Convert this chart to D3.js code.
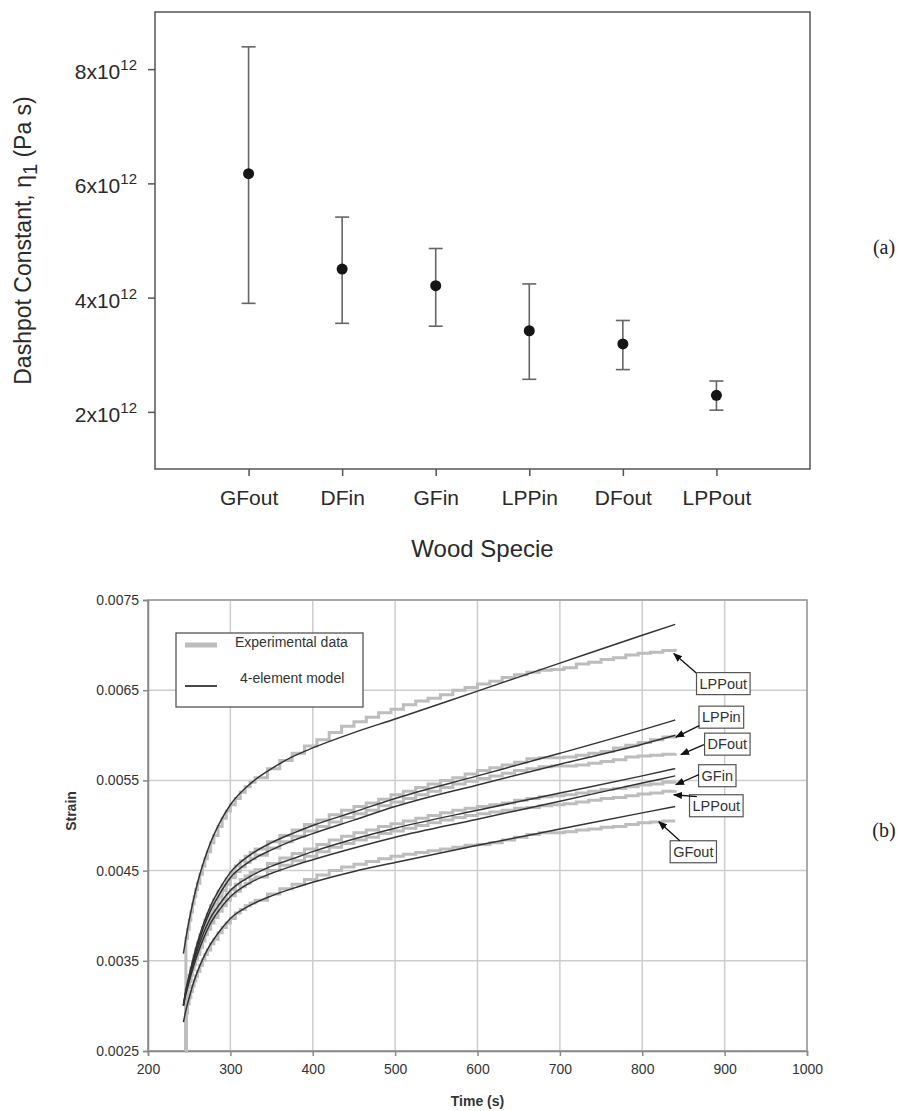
<!DOCTYPE html>
<html><head><meta charset="utf-8">
<script src="https://cdn.jsdelivr.net/npm/d3@7"></script>
<style>body{margin:0;background:#fff} svg{display:block}</style>
</head><body>
<svg id="c" width="916" height="1111"></svg>
<script>
// ---------- Data: panel (a) ----------
const species = ["GFout", "DFin", "GFin", "LPPin", "DFout", "LPPout"];
const dashpotMean  = [6.17, 4.50, 4.21, 3.42, 3.19, 2.29];   // x10^12 Pa s
const dashpotUpper = [8.39, 5.41, 4.86, 4.24, 3.60, 2.54];
const dashpotLower = [3.90, 3.55, 3.50, 2.57, 2.74, 2.03];
const dashpotTicks = [2, 4, 6, 8];

// ---------- Data: panel (b) ----------
const timeTicks = [200, 300, 400, 500, 600, 700, 800, 900, 1000];
const strainTicks = [0.0025, 0.0035, 0.0045, 0.0055, 0.0065, 0.0075];

const modelTime = [243,246,250,255,260,267,275,287,300,325,350,375,400,450,500,600,700,800,840];
const modelLPPout  = [0.00358,0.00375,0.00395,0.00417,0.00436,0.00458,0.00479,0.00503,0.00523,0.00547,0.00563,0.00576,0.00586,0.00603,0.00618,0.00649,0.00680,0.00711,0.00723];
const modelLPPin   = [0.00301,0.00318,0.00334,0.00353,0.00370,0.00390,0.00409,0.00430,0.00448,0.00468,0.00481,0.00491,0.00500,0.00515,0.00530,0.00555,0.00580,0.00606,0.00617];
const modelDFout   = [0.00300,0.00316,0.00332,0.00350,0.00366,0.00386,0.00404,0.00424,0.00442,0.00461,0.00473,0.00483,0.00491,0.00506,0.00521,0.00545,0.00568,0.00590,0.00600];
const modelGFin    = [0.00301,0.00315,0.00330,0.00347,0.00362,0.00380,0.00396,0.00413,0.00428,0.00444,0.00455,0.00463,0.00471,0.00485,0.00497,0.00517,0.00536,0.00555,0.00563];
const modelLPPout2 = [0.00300,0.00313,0.00327,0.00343,0.00357,0.00374,0.00390,0.00407,0.00421,0.00437,0.00447,0.00455,0.00462,0.00475,0.00487,0.00507,0.00527,0.00547,0.00555];
const modelGFout   = [0.00282,0.00295,0.00309,0.00325,0.00338,0.00353,0.00367,0.00383,0.00397,0.00412,0.00422,0.00430,0.00437,0.00449,0.00459,0.00478,0.00496,0.00514,0.00521];

const expTime = [245,246,248,250,252,254,256,258,260,263,266,269,272,276,280,285,290,295,300,306,312,318,324,330,
  345,360,375,390,405,420,435,450,465,480,495,510,525,540,555,570,585,600,615,630,645,660,675,690,705,720,735,750,765,780,795,810,825,840];
const expLPPout  = [0.00250,0.00375,0.00385,0.00395,0.00404,0.00413,0.00421,0.00429,0.00436,0.00446,0.00455,0.00463,0.00471,0.00481,0.00489,0.00499,0.00508,0.00516,0.00523,0.00530,0.00537,0.00543,0.00548,0.00553,
  0.00563,0.00572,0.00580,0.00588,0.00595,0.00603,0.00610,0.00615,0.00620,0.00625,0.00629,0.00634,0.00638,0.00641,0.00645,0.00650,0.00653,0.00657,0.00660,0.00664,0.00667,0.00670,0.00672,0.00673,0.00675,0.00679,0.00681,0.00684,0.00686,0.00689,0.00691,0.00692,0.00694,0.00696];
const expLPPin   = [0.00250,0.00318,0.00326,0.00334,0.00342,0.00349,0.00356,0.00363,0.00370,0.00379,0.00387,0.00395,0.00402,0.00411,0.00418,0.00427,0.00434,0.00441,0.00448,0.00455,0.00461,0.00466,0.00470,0.00474,
  0.00482,0.00489,0.00495,0.00501,0.00506,0.00512,0.00517,0.00521,0.00525,0.00529,0.00534,0.00538,0.00542,0.00546,0.00550,0.00553,0.00557,0.00561,0.00564,0.00567,0.00570,0.00574,0.00575,0.00575,0.00576,0.00578,0.00580,0.00582,0.00586,0.00589,0.00592,0.00595,0.00598,0.00601];
const expDFout   = [0.00250,0.00316,0.00324,0.00332,0.00339,0.00346,0.00353,0.00360,0.00366,0.00375,0.00383,0.00391,0.00398,0.00406,0.00413,0.00421,0.00428,0.00435,0.00442,0.00449,0.00454,0.00459,0.00463,0.00467,
  0.00475,0.00482,0.00488,0.00494,0.00499,0.00504,0.00509,0.00513,0.00517,0.00522,0.00526,0.00530,0.00534,0.00538,0.00542,0.00546,0.00549,0.00552,0.00555,0.00558,0.00561,0.00563,0.00565,0.00566,0.00566,0.00567,0.00569,0.00571,0.00573,0.00576,0.00577,0.00578,0.00579,0.00580];
const expGFin    = [0.00250,0.00315,0.00322,0.00330,0.00337,0.00344,0.00350,0.00356,0.00362,0.00370,0.00378,0.00385,0.00391,0.00398,0.00405,0.00412,0.00418,0.00424,0.00429,0.00435,0.00440,0.00444,0.00448,0.00451,
  0.00458,0.00464,0.00469,0.00474,0.00479,0.00484,0.00488,0.00492,0.00495,0.00499,0.00502,0.00505,0.00508,0.00511,0.00514,0.00517,0.00519,0.00521,0.00523,0.00525,0.00528,0.00530,0.00532,0.00533,0.00534,0.00536,0.00538,0.00540,0.00541,0.00543,0.00545,0.00546,0.00548,0.00549];
const expLPPout2 = [0.00250,0.00313,0.00320,0.00327,0.00334,0.00340,0.00346,0.00352,0.00357,0.00365,0.00372,0.00379,0.00385,0.00392,0.00398,0.00405,0.00411,0.00417,0.00422,0.00427,0.00432,0.00436,0.00440,0.00443,
  0.00450,0.00456,0.00461,0.00466,0.00471,0.00476,0.00480,0.00484,0.00487,0.00491,0.00494,0.00497,0.00500,0.00503,0.00506,0.00509,0.00511,0.00513,0.00515,0.00517,0.00519,0.00520,0.00522,0.00523,0.00524,0.00526,0.00528,0.00530,0.00531,0.00533,0.00535,0.00536,0.00538,0.00539];
const expGFout   = [0.00250,0.00292,0.00302,0.00309,0.00316,0.00322,0.00328,0.00333,0.00338,0.00345,0.00351,0.00357,0.00362,0.00369,0.00374,0.00381,0.00387,0.00392,0.00397,0.00403,0.00407,0.00411,0.00414,0.00417,
  0.00424,0.00430,0.00435,0.00440,0.00445,0.00450,0.00454,0.00457,0.00460,0.00463,0.00466,0.00468,0.00470,0.00472,0.00474,0.00476,0.00478,0.00479,0.00481,0.00484,0.00487,0.00490,0.00492,0.00492,0.00493,0.00495,0.00496,0.00498,0.00499,0.00501,0.00503,0.00504,0.00505,0.00505];

const modelSeries = [modelLPPout, modelLPPin, modelDFout, modelGFin, modelLPPout2, modelGFout];
const expSeries = [expLPPout, expLPPin, expDFout, expGFin, expLPPout2, expGFout];

// annotation labels: text, box centre (time, strain), arrow start, arrow tip
const annoText  = ["LPPout", "LPPin", "DFout", "GFin", "LPPout", "GFout"];
const annoBox   = [[898.4,0.006573],[896.0,0.006201],[903.3,0.005902],[891.1,0.005552],[889.9,0.005219],[862.0,0.004709]];
const annoFrom  = [[866.3,0.006684],[869.3,0.006107],[874.8,0.005896],[868.7,0.005563],[866.3,0.005319],[845.6,0.004831]];
const annoTip   = [[838.3,0.006906],[840.8,0.005980],[846.9,0.005785],[840.8,0.005452],[838.3,0.005341],[820.1,0.005042]];

const svg = d3.select("#c");
const SANS = "'Liberation Sans', Arial, Helvetica, sans-serif";

// ================= Panel (a) =================
const A = {left:155, top:12, right:810, bottom:469};
const xA = d3.scalePoint().domain(species).range([A.left, A.right]).padding(1);
const yA = d3.scaleLinear().domain([1, 9]).range([A.bottom, A.top]);

svg.append("rect").attr("x", A.left).attr("y", A.top)
  .attr("width", A.right - A.left).attr("height", A.bottom - A.top)
  .attr("fill", "none").attr("stroke", "#555").attr("stroke-width", 1.5);

const yAxA = svg.append("g").attr("transform", `translate(${A.left},0)`)
  .call(d3.axisLeft(yA).tickValues(dashpotTicks).tickSize(7).tickPadding(11).tickFormat(""));
yAxA.select(".domain").remove();
yAxA.selectAll(".tick line").attr("stroke", "#555").attr("stroke-width", 1.5);
yAxA.selectAll(".tick text").each(function(d){
  const t = d3.select(this).text(null).attr("font-family", SANS).attr("font-size", 21)
    .attr("fill", "#2a2a2a").attr("dy", "0.45em");
  t.append("tspan").text(d + "x10");
  t.append("tspan").attr("dy", -9).attr("font-size", 15).text("12");
});

const xAxA = svg.append("g").attr("transform", `translate(0,${A.bottom})`)
  .call(d3.axisBottom(xA).tickSize(7).tickPadding(14));
xAxA.select(".domain").remove();
xAxA.selectAll(".tick line").attr("stroke", "#555").attr("stroke-width", 1.5);
xAxA.selectAll(".tick text").attr("font-family", SANS).attr("font-size", 21).attr("fill", "#2a2a2a");

// error bars
const capW = 7;
const eb = svg.append("g").attr("stroke", "#666").attr("stroke-width", 1.6);
species.forEach((s, i) => {
  const x = xA(s);
  eb.append("line").attr("x1", x).attr("x2", x).attr("y1", yA(dashpotLower[i])).attr("y2", yA(dashpotUpper[i]));
  eb.append("line").attr("x1", x - capW).attr("x2", x + capW).attr("y1", yA(dashpotLower[i])).attr("y2", yA(dashpotLower[i]));
  eb.append("line").attr("x1", x - capW).attr("x2", x + capW).attr("y1", yA(dashpotUpper[i])).attr("y2", yA(dashpotUpper[i]));
});
svg.append("g").selectAll("circle").data(species).join("circle")
  .attr("cx", d => xA(d)).attr("cy", (d, i) => yA(dashpotMean[i])).attr("r", 5.5).attr("fill", "#151515");

// axis titles
const yt = svg.append("text").attr("transform", `translate(31,${(A.top + A.bottom) / 2}) rotate(-90)`)
  .attr("text-anchor", "middle").attr("font-family", SANS).attr("font-size", 23).attr("fill", "#2a2a2a");
yt.append("tspan").text("Dashpot Constant, η");
yt.append("tspan").attr("dy", 6).attr("font-size", 20).text("1");
yt.append("tspan").attr("dy", -6).text(" (Pa s)");

svg.append("text").attr("x", (A.left + A.right) / 2).attr("y", 557).attr("text-anchor", "middle")
  .attr("font-family", SANS).attr("font-size", 24).attr("fill", "#2a2a2a").text("Wood Specie");

svg.append("text").attr("x", 884).attr("y", 254).attr("text-anchor", "middle")
  .attr("font-family", "'Liberation Serif', 'Times New Roman', serif").attr("font-size", 20).attr("fill", "#222").text("(a)");

// ================= Panel (b) =================
const B = {left:148, top:600, right:807, bottom:1051};
const xB = d3.scaleLinear().domain([200, 1000]).range([B.left, B.right]);
const yB = d3.scaleLinear().domain([0.0025, 0.0075]).range([B.bottom, B.top]);

const grid = svg.append("g").attr("stroke", "#cdcdcd").attr("stroke-width", 1.5);
timeTicks.forEach(t => grid.append("line").attr("x1", xB(t)).attr("x2", xB(t)).attr("y1", B.top).attr("y2", B.bottom));
strainTicks.forEach(s => grid.append("line").attr("x1", B.left).attr("x2", B.right).attr("y1", yB(s)).attr("y2", yB(s)));

svg.append("rect").attr("x", B.left).attr("y", B.top).attr("width", B.right - B.left).attr("height", B.bottom - B.top)
  .attr("fill", "none").attr("stroke", "#9a9a9a").attr("stroke-width", 1.5);

const yAxB = svg.append("g").attr("transform", `translate(${B.left},0)`)
  .call(d3.axisLeft(yB).tickValues(strainTicks).tickSize(5).tickPadding(4).tickFormat(d3.format(".4f")));
yAxB.select(".domain").attr("stroke", "#888").attr("stroke-width", 1.5);
yAxB.selectAll(".tick line").attr("stroke", "#888").attr("stroke-width", 1.5);
yAxB.selectAll(".tick text").attr("font-family", SANS).attr("font-size", 14).attr("fill", "#333");

const xAxB = svg.append("g").attr("transform", `translate(0,${B.bottom})`)
  .call(d3.axisBottom(xB).tickValues(timeTicks).tickSize(5).tickPadding(8).tickFormat(d3.format("d")));
xAxB.select(".domain").attr("stroke", "#888").attr("stroke-width", 1.5);
xAxB.selectAll(".tick line").attr("stroke", "#888").attr("stroke-width", 1.5);
xAxB.selectAll(".tick text").attr("font-family", SANS).attr("font-size", 14).attr("fill", "#333");

svg.append("text").attr("x", (B.left + B.right) / 2).attr("y", 1106).attr("text-anchor", "middle")
  .attr("font-family", SANS).attr("font-size", 14).attr("font-weight", "bold").attr("fill", "#333").text("Time (s)");
svg.append("text").attr("transform", `translate(76,811) rotate(-90)`).attr("text-anchor", "middle")
  .attr("font-family", SANS).attr("font-size", 14).attr("font-weight", "bold").attr("fill", "#333").text("Strain");

// series
const expLine = d3.line().x(d => xB(d[0])).y(d => yB(d[1])).curve(d3.curveStepAfter);
const modLine = d3.line().x(d => xB(d[0])).y(d => yB(d[1])).curve(d3.curveMonotoneX);
const gExp = svg.append("g");
expSeries.forEach(vals => {
  gExp.append("path").attr("d", expLine(expTime.map((t, i) => [t, vals[i]])))
    .attr("fill", "none").attr("stroke", "#bdbdbd").attr("stroke-width", 3);
});
const gMod = svg.append("g");
modelSeries.forEach(vals => {
  gMod.append("path").attr("d", modLine(modelTime.map((t, i) => [t, vals[i]])))
    .attr("fill", "none").attr("stroke", "#333").attr("stroke-width", 1.5);
});

// legend
const lg = svg.append("g");
lg.append("rect").attr("x", 176).attr("y", 633).attr("width", 187).attr("height", 74)
  .attr("fill", "#fff").attr("stroke", "#555").attr("stroke-width", 1.3);
lg.append("line").attr("x1", 185).attr("x2", 217).attr("y1", 645).attr("y2", 645).attr("stroke", "#bdbdbd").attr("stroke-width", 5);
lg.append("line").attr("x1", 185).attr("x2", 217).attr("y1", 686).attr("y2", 686).attr("stroke", "#333").attr("stroke-width", 1.8);
lg.append("text").attr("x", 235).attr("y", 647).attr("font-family", SANS).attr("font-size", 14).attr("fill", "#333").text("Experimental data");
lg.append("text").attr("x", 240).attr("y", 683).attr("font-family", SANS).attr("font-size", 14).attr("fill", "#333").text("4-element model");

// annotations
svg.append("defs").append("marker").attr("id", "arr").attr("viewBox", "0 0 10 10")
  .attr("refX", 9).attr("refY", 5).attr("markerWidth", 7).attr("markerHeight", 7).attr("orient", "auto")
  .append("path").attr("d", "M0,1 L10,5 L0,9 z").attr("fill", "#111");
const an = svg.append("g");
annoText.forEach((txt, i) => {
  an.append("line").attr("x1", xB(annoFrom[i][0])).attr("y1", yB(annoFrom[i][1]))
    .attr("x2", xB(annoTip[i][0])).attr("y2", yB(annoTip[i][1]))
    .attr("stroke", "#111").attr("stroke-width", 1.3).attr("marker-end", "url(#arr)");
  const cx = xB(annoBox[i][0]), cy = yB(annoBox[i][1]);
  const t = an.append("text").attr("x", cx).attr("y", cy).attr("dy", "0.36em").attr("text-anchor", "middle")
    .attr("font-family", SANS).attr("font-size", 14.5).attr("fill", "#333").text(txt);
  const bb = t.node().getBBox();
  an.insert("rect", "text").attr("x", bb.x - 3).attr("y", cy - 11).attr("width", bb.width + 6).attr("height", 22)
    .attr("fill", "#fff").attr("stroke", "#555").attr("stroke-width", 1.2);
});

svg.append("text").attr("x", 884).attr("y", 837).attr("text-anchor", "middle")
  .attr("font-family", "'Liberation Serif', 'Times New Roman', serif").attr("font-size", 20).attr("fill", "#222").text("(b)");
</script></body></html>
